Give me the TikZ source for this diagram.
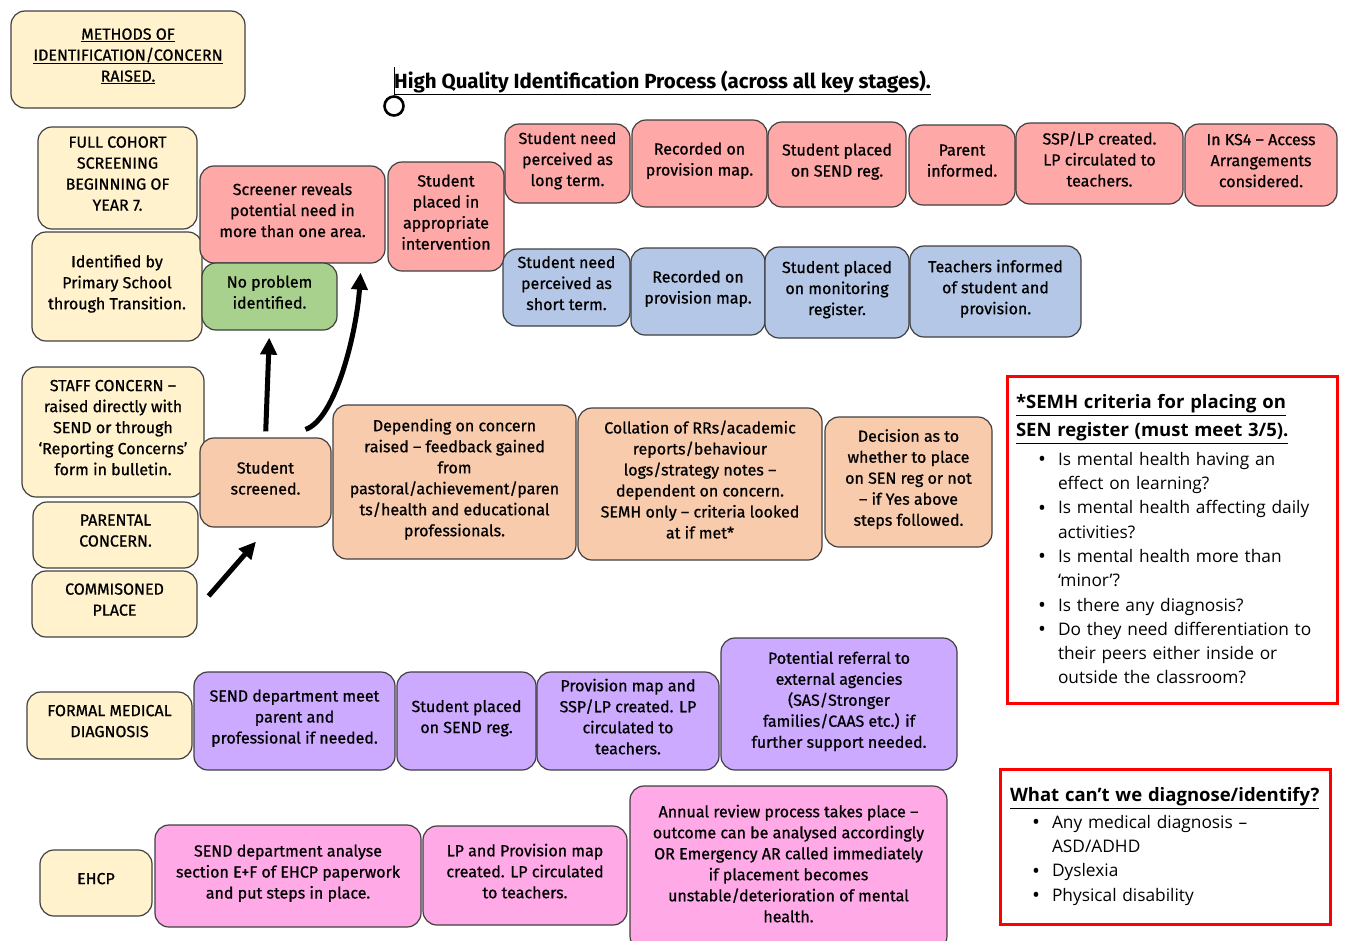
\documentclass[tikz,border=0pt]{standalone}
\usepackage{fontspec}
\setmainfont{Fira Sans}
\newfontfamily\boxfont{Fira Sans}[FakeBold=0.8]
\newfontfamily\listfont{Open Sans}
\usetikzlibrary{arrows.meta}

\definecolor{tanfill}{RGB}{255,242,204}
\definecolor{redfill}{RGB}{255,168,168}
\definecolor{greenfill}{RGB}{169,209,142}
\definecolor{bluefill}{RGB}{180,199,231}
\definecolor{peachfill}{RGB}{248,203,173}
\definecolor{purplefill}{RGB}{204,170,255}
\definecolor{pinkfill}{RGB}{255,170,230}
\definecolor{framered}{RGB}{255,0,0}

\newcommand{\bitem}[1]{\par\noindent\hspace*{22pt}\makebox[20pt][l]{\fontsize{21}{0}\selectfont\raisebox{-1.5pt}{\textbullet}}#1}
\newcommand{\bcont}[1]{\par\noindent\hspace*{42pt}#1}

\tikzset{
  box/.style={draw=black!75, line width=1.2pt, rounded corners=14pt, align=center,
    inner sep=2pt, text depth=9pt, font=\boxfont\fontsize{16}{21}\selectfont},
  tanbox/.style={box, fill=tanfill},
  redbox/.style={box, fill=redfill},
  greenbox/.style={box, fill=greenfill},
  bluebox/.style={box, fill=bluefill},
  peachbox/.style={box, fill=peachfill},
  purplebox/.style={box, fill=purplefill},
  pinkbox/.style={box, fill=pinkfill},
  critbox/.style={draw=framered, line width=3pt, align=left, inner xsep=9pt,
    font=\listfont\fontsize{17.3}{24.3}\selectfont},
  bigarrow/.style={line width=5pt, -{Triangle[length=17pt,width=16pt]}}
}

\begin{document}
\begin{tikzpicture}[x=1pt,y=1pt]
  \useasboundingbox (0,0) rectangle (1347,-940);
  \clip (0,0) rectangle (1347,-940);

  % title
  \node[anchor=base west, inner sep=0pt, font=\fontsize{20.5}{24}\selectfont\bfseries] (title) at (394,-88)
    {\underline{High Quality Identification Process (across all key stages).}};
  \node[circle, draw, line width=2.6pt, minimum size=19pt, inner sep=0pt] (handle) at (394,-106) {};
  \draw[line width=0.7pt] (handle.north) -- ++(0,28);

  % methods of identification
  \node[tanbox, minimum width=234pt, minimum height=97pt] (methods) at (128,-59.5)
    {\underline{METHODS OF}\\\underline{IDENTIFICATION/CONCERN}\\\underline{RAISED.}};
  \node[tanbox, minimum width=159pt, minimum height=102pt] (cohort) at (117.5,-178)
    {FULL COHORT\\SCREENING\\BEGINNING OF\\YEAR 7.};
  \node[tanbox, minimum width=170pt, minimum height=109pt] (primary) at (117,-286.5)
    {Identified by\\Primary School\\through Transition.};
  \node[tanbox, minimum width=182pt, minimum height=130pt] (staff) at (113,-432)
    {STAFF CONCERN –\\raised directly with\\SEND or through\\‘Reporting Concerns’\\form in bulletin.};
  \node[tanbox, minimum width=165pt, minimum height=66pt] (parental) at (115.5,-535)
    {PARENTAL\\CONCERN.};
  \node[tanbox, minimum width=165pt, minimum height=66pt] (commisoned) at (114.5,-604)
    {COMMISONED\\PLACE};
  \node[tanbox, minimum width=165pt, minimum height=67pt] (medical) at (109.5,-725.5)
    {FORMAL MEDICAL\\DIAGNOSIS};
  \node[tanbox, minimum width=112pt, minimum height=66pt] (ehcp) at (96,-883)
    {EHCP};

  % screening row
  \node[redbox, minimum width=185pt, minimum height=97pt] (screener) at (292.5,-214.5)
    {Screener reveals\\potential need in\\more than one area.};
  \node[redbox, minimum width=116pt, minimum height=109pt] (intervention) at (446,-216.5)
    {Student\\placed in\\appropriate\\intervention};
  \node[greenbox, minimum width=135pt, minimum height=67pt] (noproblem) at (269.5,-296.5)
    {No problem\\identified.};

  % long term
  \node[redbox, minimum width=125pt, minimum height=79pt] (longterm) at (567.5,-163.5)
    {Student need\\perceived as\\long term.};
  \node[redbox, minimum width=135pt, minimum height=87pt] (provmapA) at (699.5,-163.5)
    {Recorded on\\provision map.};
  \node[redbox, minimum width=138pt, minimum height=85pt] (sendregA) at (837,-164.5)
    {Student placed\\on SEND reg.};
  \node[redbox, minimum width=106pt, minimum height=80pt] (parent) at (962,-165)
    {Parent\\informed.};
  \node[redbox, minimum width=167pt, minimum height=81pt] (ssplp) at (1099.5,-163.5)
    {SSP/LP created.\\LP circulated to\\teachers.};
  \node[redbox, minimum width=152pt, minimum height=82pt] (ksfour) at (1261,-165)
    {In KS4 – Access\\Arrangements\\considered.};

  % short term
  \node[bluebox, minimum width=127pt, minimum height=77pt] (shortterm) at (566.5,-287.5)
    {Student need\\perceived as\\short term.};
  \node[bluebox, minimum width=134pt, minimum height=87pt] (provmapB) at (698,-291.5)
    {Recorded on\\provision map.};
  \node[bluebox, minimum width=144pt, minimum height=91pt] (monitor) at (837,-292.5)
    {Student placed\\on monitoring\\register.};
  \node[bluebox, minimum width=171pt, minimum height=91pt] (teachers) at (995.5,-291.5)
    {Teachers informed\\of student and\\provision.};

  % staff concern row
  \node[peachbox, minimum width=131pt, minimum height=89pt] (screened) at (265.5,-482.5)
    {Student\\screened.};
  \node[peachbox, minimum width=243pt, minimum height=154pt] (depending) at (454.5,-482)
    {Depending on concern\\raised – feedback gained\\from\\pastoral/achievement/paren\\ts/health and educational\\professionals.};
  \node[peachbox, minimum width=244pt, minimum height=152pt] (collation) at (700,-484)
    {Collation of RRs/academic\\reports/behaviour\\logs/strategy notes –\\dependent on concern.\\SEMH only – criteria looked\\at if met*};
  \node[peachbox, minimum width=167pt, minimum height=130pt] (decision) at (908.5,-482)
    {Decision as to\\whether to place\\on SEN reg or not\\– if Yes above\\steps followed.};

  % formal medical diagnosis row
  \node[purplebox, minimum width=201pt, minimum height=98pt] (meet) at (294.5,-721)
    {SEND department meet\\parent and\\professional if needed.};
  \node[purplebox, minimum width=139pt, minimum height=98pt] (sendregB) at (466.5,-721)
    {Student placed\\on SEND reg.};
  \node[purplebox, minimum width=182pt, minimum height=98pt] (provmapC) at (628,-721)
    {Provision map and\\SSP/LP created. LP\\circulated to\\teachers.};
  \node[purplebox, minimum width=236pt, minimum height=132pt] (referral) at (839,-704)
    {Potential referral to\\external agencies\\(SAS/Stronger\\families/CAAS etc.) if\\further support needed.};

  % ehcp row
  \node[pinkbox, minimum width=266pt, minimum height=102pt] (analyse) at (288,-876)
    {SEND department analyse\\section E+F of EHCP paperwork\\and put steps in place.};
  \node[pinkbox, minimum width=204pt, minimum height=99pt] (lpprov) at (525,-875.5)
    {LP and Provision map\\created. LP circulated\\to teachers.};
  \node[pinkbox, minimum width=317pt, minimum height=164pt] (annual) at (788.5,-868)
    {Annual review process takes place –\\outcome can be analysed accordingly\\OR Emergency AR called immediately\\if placement becomes\\unstable/deterioration of mental\\health.};

  % criteria boxes
  \node[critbox, minimum width=330pt, minimum height=327pt, text width=312pt] (semh) at (1172,-539.5)
    {{\fontsize{18.5}{28}\selectfont\bfseries\underline{*SEMH criteria for placing on}\par
      \underline{SEN register (must meet 3/5).}\par}\vspace{4pt}
     \bitem{Is mental health having an}
     \bcont{effect on learning?}
     \bitem{Is mental health affecting daily}
     \bcont{activities?}
     \bitem{Is mental health more than}
     \bcont{‘minor’?}
     \bitem{Is there any diagnosis?}
     \bitem{Do they need differentiation to}
     \bcont{their peers either inside or}
     \bcont{outside the classroom?}};
  \node[critbox, minimum width=330pt, minimum height=155pt, text width=310pt, inner xsep=10pt] (cannot) at (1165,-846.5)
    {{\fontsize{18.5}{28}\selectfont\bfseries\underline{What can’t we diagnose/identify?}\par}\vspace{2pt}
     \bitem{Any medical diagnosis –}
     \bcont{ASD/ADHD}
     \bitem{Dyslexia}
     \bitem{Physical disability}};

  % arrows
  \draw[bigarrow, shorten <=6pt, shorten >=7pt] (screened.north) -- (noproblem.south);
  \draw[bigarrow] ([xshift=40pt,yshift=8pt]screened.north) .. controls +(30pt,10pt) and +(-4pt,-60pt) .. ([xshift=-25pt,yshift=-9pt]screener.south east);
  \draw[bigarrow] ([xshift=11pt,yshift=8pt]commisoned.east) -- ([xshift=-9.5pt,yshift=-14pt]screened.south);
\end{tikzpicture}
\end{document}
